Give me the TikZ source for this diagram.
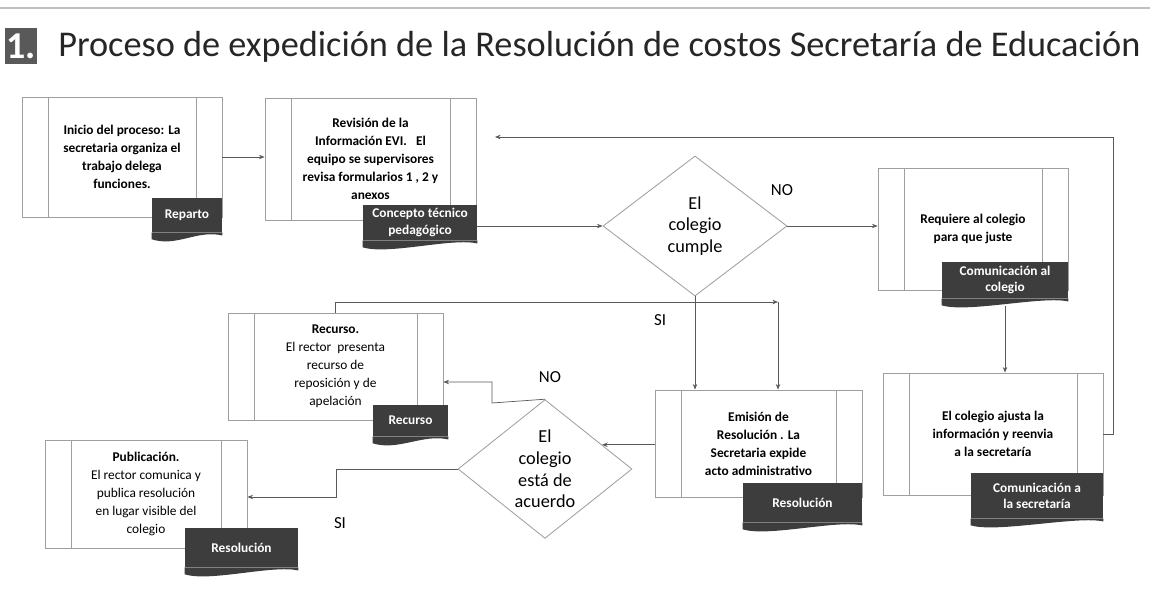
\documentclass[tikz,border=0pt]{standalone}
\usepackage{fontspec}
\setmainfont{Carlito}
\usetikzlibrary{arrows.meta, shapes.geometric, calc}

\tikzset{
  proc/.style={draw=gray!75, line width=0.6pt, rectangle, align=center,
    font=\bfseries\fontsize{9.5}{12.8}\selectfont, inner sep=0pt,
    path picture={\draw[gray!75, line width=0.6pt]
      ([xshift=0.65cm]path picture bounding box.north west) -- ([xshift=0.65cm]path picture bounding box.south west)
      ([xshift=-0.65cm]path picture bounding box.north east) -- ([xshift=-0.65cm]path picture bounding box.south east);}},
  tag/.style={fill=black!76, text=white, align=center, inner sep=0pt,
    font=\bfseries\fontsize{9.5}{11.5}\selectfont},
  dec/.style={diamond, draw=gray!75, line width=0.6pt, align=center, inner sep=0pt,
    font=\fontsize{13}{15.5}\selectfont},
  arr/.style={draw=gray!70!black, line width=0.5pt, -{Stealth[length=4pt,width=3.2pt]}},
  lbl/.style={font=\fontsize{12}{14}\selectfont}
}

\begin{document}
\begin{tikzpicture}[x=0.025cm, y=-0.025cm]
\useasboundingbox (0,0) rectangle (1150,600);

% title
\draw[gray!50, line width=1.5pt] (0,8) -- (1150,8);
\node[fill=black!65, text=white, font=\bfseries\fontsize{27}{27}\selectfont,
  minimum width=0.8cm, minimum height=0.9cm, inner sep=0pt] (num) at (21,46) {1.};
\node[anchor=west, inner sep=0pt, text=black!85, font=\fontsize{25.8}{30}\selectfont] (title) at (58,47)
  {Proceso de expedición de la Resolución de costos Secretaría de Educación};

% process boxes
\node[proc, minimum width=5cm, minimum height=3cm] (ini) at (122,157)
  {Inicio del proceso: La\\ secretaria organiza el\\ trabajo delega\\ funciones.};
\node[proc, minimum width=5.275cm, minimum height=3.05cm] (rev) at (370.5,159)
  {Revisión de la\\ Información EVI.\ \ \ El\\ equipo se supervisores\\ revisa formularios 1 , 2 y\\ anexos};
\node[proc, minimum width=4.75cm, minimum height=3.05cm] (req) at (973,229)
  {Requiere al colegio\\ para que juste};
\node[proc, minimum width=5.5cm, minimum height=3.05cm] (aj) at (993,434)
  {El colegio ajusta la\\ información y reenvia\\ a la secretaría};
\node[proc, minimum width=5.175cm, minimum height=2.675cm] (em) at (758.5,443.5)
  {Emisión de\\ Resolución . La\\ Secretaria expide\\ acto administrativo};
\node[proc, minimum width=5.375cm, minimum height=2.675cm, font=\fontsize{9.5}{12.8}\selectfont] (rc) at (335.5,366.5)
  {\textbf{Recurso.}\\ El rector\ \ presenta\\ recurso de\\ reposición y de\\ apelación};
\node[proc, minimum width=5.05cm, minimum height=2.7cm, font=\fontsize{9.5}{12.8}\selectfont] (pub) at (146,494)
  {\textbf{Publicación.}\\ El rector comunica y\\ publica resolución\\ en lugar visible del\\ colegio};

% decisions
\node[dec, minimum width=4.6cm, minimum height=3.5cm] (d1) at (695,226) {El\\ colegio\\ cumple};
\node[dec, minimum width=4.35cm, minimum height=3.3cm] (d2) at (545,469) {El\\ colegio\\ está de\\ acuerdo};

% document tags
\node[tag, minimum width=1.75cm, minimum height=0.85cm] (trep) at (187,215) {Reparto};
\node[tag, minimum width=2.85cm, minimum height=0.875cm] (tcon) at (420,222.5) {Concepto técnico\\ pedagógico};
\node[tag, minimum width=3.15cm, minimum height=0.9cm] (tcol) at (1005,280) {Comunicación al\\ colegio};
\node[tag, minimum width=3.3cm, minimum height=1.125cm] (tsec) at (1037,495.5) {Comunicación a\\ la secretaría};
\node[tag, minimum width=1.875cm, minimum height=0.775cm] (trec) at (410.5,420.5) {Recurso};
\node[tag, minimum width=2.975cm, minimum height=0.975cm] (tres) at (802.5,502.5) {Resolución};
\node[tag, minimum width=2.825cm, minimum height=0.975cm] (tpub) at (241.5,547.5) {Resolución};
\foreach \t in {trep,tcon,tcol,tsec,trec,tres,tpub}
  \fill[black!76] (\t.south west) -- ++(0,7) .. controls +(25,8) and +(-25,-6) .. ([yshift=-0.08cm]\t.south east)
    -- (\t.south east) -- cycle;

% labels
\node[lbl] (no1) at (782,190) {NO};
\node[lbl] (si1) at (660,320) {SI};
\node[lbl] (no2) at (550,377) {NO};
\node[lbl] (si2) at (340,523) {SI};

% connectors
\coordinate (fb) at (495,137);
\coordinate (sic) at (778,302);
\draw[arr] (ini.east) -- (ini.east -| rev.west);
\draw[arr] (tcon.east |- d1.west) -- (d1.west);
\draw[arr] (d1.east) -- (d1.east -| req.west);
\draw[arr] ([yshift=-0.2cm]tcol.south) -- (tcol.south |- aj.north);
\draw[arr] (aj.east) -| (1113,137) -- (fb);
\draw[arr] (d1.south) -- (d1.south |- em.north);
\draw[arr] (rc.north) |- (sic);
\draw[arr] (sic) -- (sic |- em.north);
\draw[arr] (d2.23 -| em.west) -- (d2.23);
\draw[arr] (d2.north) -- (492,403) |- (rc.east |- 492,382);
\draw[arr] (d2.west) -- (336,469) |- (pub.east |- 336,497);
\end{tikzpicture}
\end{document}
